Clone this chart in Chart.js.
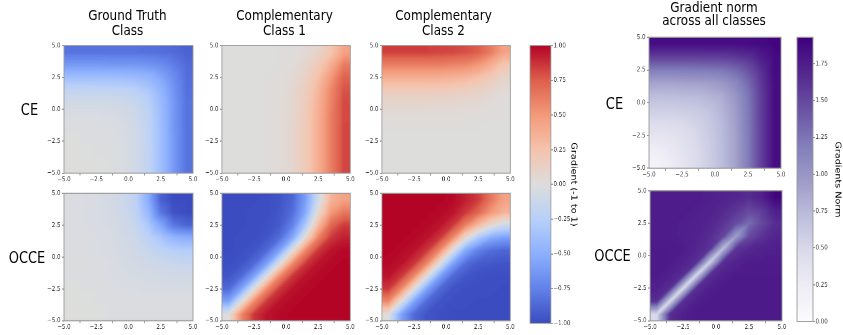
<!DOCTYPE html>
<html><head><meta charset="utf-8">
<script src="https://cdn.jsdelivr.net/npm/chart.js@4.4.0/dist/chart.umd.min.js"></script>
<style>
html,body{margin:0;padding:0;background:#fff;overflow:hidden;width:843px;height:335px}
#fig{position:absolute;left:0;top:0;width:843px;height:279.17px;transform:scaleY(1.2);transform-origin:0 0;font-family:'DejaVu Sans',sans-serif}
.box{position:absolute}
.txt{position:absolute;transform:translate(-50%,-50%);white-space:nowrap;color:#000;line-height:1}
</style></head>
<body><div id="fig"></div>
<script>
// ---------- data ----------
const xCenters = [-4.5,-3.5,-2.5,-1.5,-0.5,0.5,1.5,2.5,3.5,4.5];
const yCenters = [4.5,3.5,2.5,1.5,0.5,-0.5,-1.5,-2.5,-3.5,-4.5];
const axisTicks = [-5,-2.5,0,2.5,5];
const gradientTicks = [-1,-0.75,-0.5,-0.25,0,0.25,0.5,0.75,1];
const normTicks = [0,0.25,0.5,0.75,1,1.25,1.5,1.75];
const normRange = [0,1.93];

const ceGroundTruth = [
[-0.82,-0.82,-0.82,-0.82,-0.82,-0.82,-0.83,-0.84,-0.86,-0.90],
[-0.62,-0.62,-0.62,-0.63,-0.63,-0.63,-0.65,-0.69,-0.77,-0.86],
[-0.38,-0.38,-0.38,-0.38,-0.39,-0.41,-0.45,-0.55,-0.69,-0.84],
[-0.18,-0.18,-0.19,-0.19,-0.20,-0.23,-0.31,-0.45,-0.65,-0.83],
[-0.08,-0.08,-0.08,-0.09,-0.10,-0.14,-0.23,-0.41,-0.63,-0.82],
[-0.03,-0.03,-0.03,-0.04,-0.06,-0.10,-0.20,-0.39,-0.63,-0.82],
[-0.01,-0.01,-0.02,-0.02,-0.04,-0.09,-0.19,-0.38,-0.63,-0.82],
[0.00,-0.01,-0.01,-0.02,-0.03,-0.08,-0.19,-0.38,-0.62,-0.82],
[0.00,0.00,-0.01,-0.01,-0.03,-0.08,-0.18,-0.38,-0.62,-0.82],
[0.00,0.00,0.00,-0.01,-0.03,-0.08,-0.18,-0.38,-0.62,-0.82]];

const ceClass1 = [
[0,0,0,0,0.01,0.01,0.04,0.10,0.23,0.45],
[0,0,0,0,0.01,0.03,0.08,0.19,0.38,0.63],
[0,0,0,0.01,0.02,0.05,0.12,0.27,0.51,0.74],
[0,0,0,0.01,0.02,0.06,0.15,0.33,0.58,0.79],
[0,0,0,0.01,0.03,0.07,0.17,0.36,0.60,0.81],
[0,0,0,0.01,0.03,0.07,0.18,0.37,0.62,0.81],
[0,0,0,0.01,0.03,0.08,0.18,0.38,0.62,0.82],
[0,0,0,0.01,0.03,0.08,0.18,0.38,0.62,0.82],
[0,0,0,0.01,0.03,0.08,0.18,0.38,0.62,0.82],
[0,0,0,0.01,0.03,0.08,0.18,0.38,0.62,0.82]];

const ceClass2 = [
[0.84,0.84,0.84,0.84,0.83,0.82,0.80,0.75,0.63,0.45],
[0.62,0.62,0.62,0.62,0.62,0.60,0.58,0.51,0.38,0.23],
[0.38,0.38,0.38,0.38,0.37,0.36,0.33,0.27,0.19,0.10],
[0.18,0.18,0.18,0.18,0.18,0.17,0.15,0.12,0.08,0.04],
[0.08,0.08,0.08,0.08,0.07,0.07,0.06,0.05,0.03,0.01],
[0.03,0.03,0.03,0.03,0.03,0.03,0.02,0.02,0.01,0.01],
[0.01,0.01,0.01,0.01,0.01,0.01,0.01,0.01,0,0],
[0,0,0,0,0,0,0,0,0,0],
[0,0,0,0,0,0,0,0,0,0],
[0,0,0,0,0,0,0,0,0,0]];

const occeGroundTruth = [
[-0.02,-0.03,-0.04,-0.06,-0.10,-0.20,-0.50,-0.90,-1.00,-1.00],
[-0.02,-0.03,-0.04,-0.06,-0.10,-0.18,-0.42,-0.80,-0.97,-1.00],
[-0.02,-0.03,-0.04,-0.05,-0.08,-0.14,-0.30,-0.55,-0.80,-0.88],
[-0.02,-0.02,-0.03,-0.04,-0.07,-0.10,-0.20,-0.32,-0.45,-0.50],
[-0.01,-0.02,-0.03,-0.04,-0.06,-0.09,-0.14,-0.20,-0.25,-0.27],
[-0.01,-0.01,-0.02,-0.03,-0.05,-0.07,-0.09,-0.11,-0.13,-0.15],
[-0.01,-0.01,-0.02,-0.03,-0.04,-0.05,-0.06,-0.07,-0.08,-0.08],
[0,-0.01,-0.01,-0.02,-0.03,-0.03,-0.04,-0.04,-0.04,-0.04],
[0,0,-0.01,-0.01,-0.02,-0.02,-0.02,-0.02,-0.02,-0.02],
[0,0,0,-0.01,-0.01,-0.01,-0.01,-0.01,-0.01,-0.01]];

const occeClass1 = [
[-1,-1,-1,-0.99,-0.96,-0.88,-0.60,-0.10,0.35,0.45],
[-1,-1,-0.99,-0.99,-0.95,-0.84,-0.53,0.06,0.50,0.65],
[-1,-1,-0.99,-0.98,-0.93,-0.75,-0.31,0.31,0.72,0.85],
[-1,-0.99,-0.99,-0.95,-0.84,-0.53,0.06,0.61,0.86,0.93],
[-1,-0.99,-0.96,-0.86,-0.57,0,0.57,0.86,0.96,0.99],
[-0.99,-0.96,-0.86,-0.57,0,0.57,0.86,0.96,0.99,1],
[-0.96,-0.86,-0.57,0,0.57,0.86,0.96,0.99,1,1],
[-0.86,-0.57,0,0.57,0.86,0.96,0.99,1,1,1],
[-0.57,0,0.57,0.86,0.96,0.99,1,1,1,1],
[0,0.57,0.86,0.96,0.99,1,1,1,1,1]];

const occeClass2 = [
[1,1,1,1,1,0.99,0.93,0.85,0.65,0.45],
[1,1,1,1,0.99,0.96,0.86,0.72,0.50,0.35],
[1,1,1,0.99,0.96,0.86,0.61,0.31,0.06,-0.10],
[1,1,0.99,0.96,0.86,0.57,0.06,-0.31,-0.53,-0.60],
[1,0.99,0.96,0.86,0.57,0,-0.53,-0.75,-0.84,-0.88],
[0.99,0.96,0.86,0.57,0,-0.57,-0.84,-0.93,-0.95,-0.96],
[0.96,0.86,0.57,0,-0.57,-0.86,-0.95,-0.98,-0.99,-0.99],
[0.86,0.57,0,-0.57,-0.86,-0.96,-0.99,-0.99,-0.99,-1],
[0.57,0,-0.57,-0.86,-0.96,-0.99,-0.99,-1,-1,-1],
[0,-0.57,-0.86,-0.96,-0.99,-1,-1,-1,-1,-1]];

const ceNorm = [
[1.85,1.85,1.85,1.85,1.85,1.85,1.85,1.86,1.87,1.90],
[1.55,1.55,1.55,1.55,1.56,1.56,1.59,1.64,1.76,1.87],
[1.20,1.20,1.20,1.21,1.22,1.24,1.31,1.44,1.64,1.86],
[0.90,0.90,0.91,0.92,0.94,0.99,1.11,1.31,1.59,1.85],
[0.72,0.72,0.73,0.74,0.78,0.84,0.99,1.24,1.56,1.85],
[0.58,0.58,0.60,0.62,0.67,0.78,0.94,1.22,1.56,1.85],
[0.46,0.47,0.49,0.54,0.62,0.74,0.92,1.21,1.55,1.85],
[0.35,0.37,0.42,0.49,0.60,0.73,0.91,1.20,1.55,1.85],
[0.25,0.30,0.37,0.47,0.58,0.72,0.90,1.20,1.55,1.85],
[0.14,0.25,0.35,0.46,0.58,0.72,0.90,1.20,1.55,1.85]];

const occeNorm = [
[1.75,1.75,1.75,1.75,1.74,1.72,1.70,1.66,1.74,1.90],
[1.75,1.75,1.75,1.74,1.72,1.68,1.60,1.50,1.58,1.74],
[1.75,1.75,1.74,1.73,1.70,1.62,1.48,1.30,1.50,1.66],
[1.75,1.75,1.74,1.72,1.66,1.52,0.95,1.48,1.62,1.70],
[1.76,1.76,1.75,1.70,1.62,0.72,1.60,1.68,1.72,1.74],
[1.76,1.76,1.72,1.64,0.58,1.64,1.72,1.75,1.75,1.75],
[1.76,1.73,1.64,0.52,1.64,1.73,1.76,1.76,1.76,1.76],
[1.73,1.64,0.50,1.64,1.74,1.76,1.76,1.76,1.76,1.76],
[1.64,0.50,1.64,1.74,1.76,1.76,1.76,1.76,1.76,1.76],
[0.50,1.64,1.74,1.76,1.76,1.76,1.76,1.76,1.76,1.76]];

// ---------- styles ----------
const COOLWARM = [[59,76,192],[98,130,234],[141,176,254],[184,208,249],[221,221,221],[245,196,173],[244,154,123],[222,96,77],[180,4,38]];
const PURPLES = [[252,251,253],[239,237,245],[218,218,235],[188,189,220],[158,154,200],[128,125,186],[106,81,163],[84,39,143],[63,0,125]];
const S = 1.2;            // vertical stretch of the whole figure
const FONT = "'DejaVu Sans', sans-serif";
const SPINE = '#9a9a9a';
const TICKTXT = '#333';

function cmapRGB(stops, t){
  t = Math.max(0, Math.min(1, t));
  const n = stops.length - 1, f = t * n;
  const i = Math.min(n - 1, Math.floor(f)), u = f - i;
  const a = stops[i], b = stops[i+1];
  return [0,1,2].map(k => Math.round(a[k] + (b[k]-a[k])*u));
}
const cmap = (stops, t) => 'rgb(' + cmapRGB(stops, t).join(',') + ')';
const fmt = (v, d) => (v < 0 ? '\u2212' : '') + Math.abs(v).toFixed(d);

const fig = document.getElementById('fig');
function addText(str, x, yRef, size){
  const d = document.createElement('div');
  d.className = 'txt'; d.textContent = str;
  d.style.left = x + 'px'; d.style.top = (yRef / S) + 'px'; d.style.fontSize = size + 'px';
  fig.appendChild(d);
}
function makeBox(l, t, w, h){
  const box = document.createElement('div'); box.className = 'box';
  box.style.left = l + 'px'; box.style.top = t + 'px';
  box.style.width = w + 'px'; box.style.height = h + 'px';
  const cv = document.createElement('canvas'); box.appendChild(cv); fig.appendChild(box);
  return cv;
}
const frame = { id: 'frame', afterDatasetsDraw(ch){
  const {ctx, chartArea: a} = ch; ctx.save(); ctx.strokeStyle = SPINE; ctx.lineWidth = 0.9;
  ctx.strokeRect(a.left, a.top, a.right - a.left, a.bottom - a.top); ctx.restore(); } };

// shades the drawn cells like an image: colour is taken from the cell values,
// shaded continuously between the cell centres the library placed
const smooth = { id: 'smooth', afterDatasetsDraw(ch){
  const metas = ch.getSortedVisibleDatasetMetas();
  if (!metas.length) return;
  const ds = ch.data.datasets, stops = ds[0].cmapStops;
  const cx = metas[0].data.map(el => el.x);
  const cy = metas.map(m => (m.data[0].y + m.data[0].base) / 2);
  const vals = ds.map(d => d.cellT);
  const lut = []; for (let i = 0; i <= 255; i++) lut.push(cmapRGB(stops, i / 255));
  const a = ch.chartArea, dpr = ch.currentDevicePixelRatio;
  const X0 = Math.round(a.left * dpr), Y0 = Math.round(a.top * dpr);
  const W = Math.round(a.right * dpr) - X0, H = Math.round(a.bottom * dpr) - Y0;
  const img = ch.ctx.createImageData(W, H), d = img.data;
  const locate = (p, arr) => {
    const n = arr.length;
    if (p <= arr[0]) return [0, 0];
    if (p >= arr[n-1]) return [n - 2, 1];
    let i = 0; while (i < n - 2 && p >= arr[i+1]) i++;
    return [i, (p - arr[i]) / (arr[i+1] - arr[i])];
  };
  for (let py = 0; py < H; py++){
    const [r0, v] = locate((Y0 + py + 0.5) / dpr, cy);
    for (let px = 0; px < W; px++){
      const [c0, u] = locate((X0 + px + 0.5) / dpr, cx);
      const TL = vals[r0][c0], TR = vals[r0][c0+1], BL = vals[r0+1][c0], BR = vals[r0+1][c0+1];
      const val = (u + v <= 1) ? TL + u*(TR-TL) + v*(BL-TL) : BR + (1-u)*(BL-BR) + (1-v)*(TR-BR);
      const c = lut[Math.max(0, Math.min(255, Math.round(val * 255)))];
      const k = (py * W + px) * 4;
      d[k] = c[0]; d[k+1] = c[1]; d[k+2] = c[2]; d[k+3] = 255;
    }
  }
  ch.ctx.putImageData(img, X0, Y0);
} };

function heat(rect, values, stops, vmin, vmax){
  const padL = 20, padT = 6, padR = 9, padB = 10;
  const l = rect[0], t = rect[1] / S, r = rect[2], b = rect[3] / S;
  const cv = makeBox(l - padL, t - padT, r - l + padL + padR, b - t + padT + padB);
  const halfY = Math.abs(yCenters[0] - yCenters[1]) / 2;
  const tickFont = { size: 5.5, family: FONT };
  new Chart(cv, {
    type: 'bar',
    data: { datasets: values.map((row, ri) => ({
      data: xCenters.map(x => ({ x: x, y: [yCenters[ri] - halfY, yCenters[ri] + halfY] })),
      backgroundColor: row.map(v => cmap(stops, (v - vmin) / (vmax - vmin))),
      cellT: row.map(v => (v - vmin) / (vmax - vmin)), cmapStops: stops,
      borderWidth: 0, grouped: false, barPercentage: 1, categoryPercentage: 1, inflateAmount: 0.6
    })) },
    options: {
      animation: false, responsive: true, maintainAspectRatio: false, devicePixelRatio: 2, events: [],
      layout: { padding: { left: 0, top: padT, right: padR, bottom: 0 } },
      plugins: { legend: { display: false }, tooltip: { enabled: false } },
      scales: {
        x: { type: 'linear', min: -5, max: 5, offset: false,
          afterBuildTicks: s => { s.ticks = axisTicks.map(v => ({ value: v })); },
          ticks: { font: tickFont, color: TICKTXT, padding: 0, maxRotation: 0, autoSkip: false, callback: v => fmt(v, 1) },
          grid: { drawOnChartArea: false, tickLength: 2, color: SPINE },
          border: { display: false },
          afterFit: s => { s.height = padB; s.paddingLeft = 0; s.paddingRight = 0; } },
        y: { type: 'linear', min: -5, max: 5,
          afterBuildTicks: s => { s.ticks = axisTicks.map(v => ({ value: v })); },
          ticks: { font: tickFont, color: TICKTXT, padding: 1.5, autoSkip: false, callback: v => fmt(v, 1) },
          grid: { drawOnChartArea: false, tickLength: 2, color: SPINE },
          border: { display: false },
          afterFit: s => { s.width = padL; s.paddingTop = 0; s.paddingBottom = 0; } }
      }
    },
    plugins: [smooth, frame]
  });
}

function colorbar(rect, stops, vmin, vmax, tickVals, title, titleX){
  const padL = 2, padT = 6, padB = 6;
  const l = rect[0], t = rect[1] / S, r = rect[2], b = rect[3] / S;
  const axisW = titleX - r + 4.8;
  const cv = makeBox(l - padL, t - padT, r - l + padL + axisW, b - t + padT + padB);
  new Chart(cv, {
    type: 'bar',
    data: { labels: [''], datasets: [{
      data: [[vmin, vmax]],
      backgroundColor: ctx => {
        const ch = ctx.chart, a = ch.chartArea;
        if (!a || !ch.scales.y) return cmap(stops, 0.5);
        const ys = ch.scales.y;
        const g = ch.ctx.createLinearGradient(0, ys.getPixelForValue(vmin), 0, ys.getPixelForValue(vmax));
        stops.forEach((c, i) => g.addColorStop(i / (stops.length - 1), 'rgb(' + c.join(',') + ')'));
        return g;
      },
      borderWidth: 0, barPercentage: 1, categoryPercentage: 1, inflateAmount: 0
    }] },
    options: {
      animation: false, responsive: true, maintainAspectRatio: false, devicePixelRatio: 2, events: [],
      layout: { padding: { left: padL, top: padT, right: 0, bottom: padB } },
      plugins: { legend: { display: false }, tooltip: { enabled: false } },
      scales: {
        x: { display: false },
        y: { position: 'right', min: vmin, max: vmax,
          afterBuildTicks: s => { s.ticks = tickVals.map(v => ({ value: v })); },
          ticks: { font: { size: 5.5, family: FONT }, color: TICKTXT, padding: 0.5, autoSkip: false, callback: v => fmt(v, 2) },
          grid: { drawOnChartArea: false, tickLength: 2, color: SPINE },
          border: { display: false },
          title: { display: true, text: title, font: { size: 8, family: FONT }, color: '#000', padding: 0 },
          afterFit: s => { s.width = axisW; s.paddingTop = 0; s.paddingBottom = 0; } }
      }
    },
    plugins: [frame]
  });
}

// ---------- layout (reference pixel coordinates) ----------
heat([63.7, 45, 192.7, 172.5], ceGroundTruth, COOLWARM, -1, 1);
heat([221.7, 45, 350.5, 172.5], ceClass1, COOLWARM, -1, 1);
heat([381.5, 45, 510.3, 172.5], ceClass2, COOLWARM, -1, 1);
heat([63.7, 193.7, 192.7, 320.7], occeGroundTruth, COOLWARM, -1, 1);
heat([221.7, 193.7, 350.5, 320.7], occeClass1, COOLWARM, -1, 1);
heat([381.5, 193.7, 510.3, 320.7], occeClass2, COOLWARM, -1, 1);
heat([649, 37.5, 781, 168.5], ceNorm, PURPLES, normRange[0], normRange[1]);
heat([650, 190.5, 781.5, 320.5], occeNorm, PURPLES, normRange[0], normRange[1]);
colorbar([530, 46, 550.7, 322.5], COOLWARM, gradientTicks[0], gradientTicks[gradientTicks.length-1], gradientTicks, 'Gradient (-1 to 1)', 573);
colorbar([797, 37.7, 813, 321.5], PURPLES, normRange[0], normRange[1], normTicks, 'Gradients Norm', 837.5);

addText('Ground Truth', 127.5, 15.3, 12);
addText('Class', 127.5, 30, 12);
addText('Complementary', 284.5, 15.3, 12);
addText('Class 1', 284.5, 30, 12);
addText('Complementary', 443.5, 15.3, 12);
addText('Class 2', 443.5, 30, 12);
addText('Gradient norm', 714, 6.7, 12);
addText('across all classes', 714, 20.5, 12);
addText('CE', 29.5, 109.2, 13);
addText('OCCE', 27, 258.5, 13);
addText('CE', 614.5, 103.3, 13);
addText('OCCE', 612.5, 255.8, 13);
</script>
</body></html>
